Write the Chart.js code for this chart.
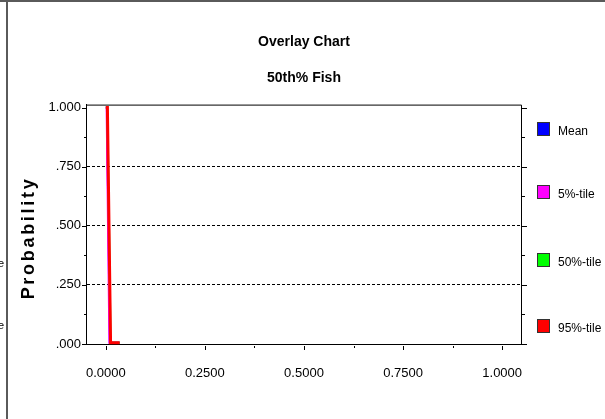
<!DOCTYPE html>
<html>
<head>
<meta charset="utf-8">
<script src="https://cdn.jsdelivr.net/npm/chart.js@4"></script>
<style>
    html, body { margin: 0; padding: 0; background: #fff; }
    #wrap { position: relative; width: 605px; height: 419px; overflow: hidden; }
</style>
</head>
<body>
<div id="wrap"><canvas id="overlay" width="605" height="419"></canvas></div>
<script>
// series (x = value, y = cumulative probability)
const seriesNames = ['Mean', '5%-tile', '50%-tile', '95%-tile'];
const seriesColors = ['#0000ff', '#ff00ff', '#00ff00', '#ff0000'];
const meanX = [0.000, 0.003, 0.010, 0.035];
const meanY = [1.000, 1.000, 0.005, 0.005];
const p5X = [0.000, 0.002, 0.009, 0.035];
const p5Y = [1.000, 1.000, 0.005, 0.005];
const p50X = [0.000, 0.004, 0.012, 0.035];
const p50Y = [1.000, 1.000, 0.005, 0.005];
const p95X = [0.000, 0.004, 0.012, 0.035];
const p95Y = [1.000, 1.000, 0.005, 0.005];

// axis ticks
const xTicks = [0, 0.125, 0.25, 0.375, 0.5, 0.625, 0.75, 0.875, 1];
const xLabelTicks = [0, 0.25, 0.5, 0.75, 1];
const yTicks = [0, 0.125, 0.25, 0.375, 0.5, 0.625, 0.75, 0.875, 1];
const yLabelTicks = [0, 0.25, 0.5, 0.75, 1];
const yGridTicks = [0.25, 0.5, 0.75];

const FONT = "'Liberation Sans', Arial, sans-serif";

function toPoints(xs, ys) {
    return xs.map((x, i) => ({ x: x, y: ys[i] }));
}

function isIn(list, v) {
    return list.some(t => Math.abs(t - v) < 1e-9);
}

function formatY(v) {
    return v.toFixed(3).replace(/^0/, '');
}

// frame, tick marks, rotated axis title, legend
const decorPlugin = {
    id: 'decor',
    beforeDraw(chart) {
        const ctx = chart.ctx;
        ctx.save();
        ctx.strokeStyle = '#5a5a5a';
        ctx.lineWidth = 2;
        ctx.beginPath();
        ctx.moveTo(0, 1);
        ctx.lineTo(605, 1);
        ctx.moveTo(7, 0);
        ctx.lineTo(7, 419);
        ctx.stroke();

        // cut-off text from the neighbouring panel
        ctx.fillStyle = '#000';
        ctx.font = '11px ' + FONT;
        ctx.textAlign = 'right';
        ctx.textBaseline = 'middle';
        ctx.fillText('50%-tile', 4, 264);
        ctx.fillText('95%-tile', 4, 326);
        ctx.restore();
    },
    afterDatasetsDraw(chart) {
        const ctx = chart.ctx;
        const a = chart.chartArea;
        const x = chart.scales.x;
        const y = chart.scales.y;
        ctx.save();
        ctx.strokeStyle = '#000';
        ctx.lineWidth = 1;
        ctx.beginPath();
        // top and right edges of the plot frame
        ctx.moveTo(a.left, a.top + 0.5);
        ctx.lineTo(a.right - 0.5, a.top + 0.5);
        ctx.lineTo(a.right - 0.5, a.bottom);
        yTicks.forEach(v => {
            const py = Math.round(y.getPixelForValue(v)) + 0.5;
            const len = isIn(yLabelTicks, v) ? 4 : 2;
            ctx.moveTo(a.left - len, py);
            ctx.lineTo(a.left, py);
            ctx.moveTo(a.right, py);
            ctx.lineTo(a.right + len + 1, py);
        });
        xTicks.forEach(v => {
            const px = Math.round(x.getPixelForValue(v)) + 0.5;
            const len = isIn(xLabelTicks, v) ? 4 : 2;
            ctx.moveTo(px, a.bottom + 2);
            ctx.lineTo(px, a.bottom + 2 + len);
        });
        ctx.stroke();

        // axis title
        ctx.fillStyle = '#000';
        ctx.font = 'bold 18px ' + FONT;
        ctx.letterSpacing = '2.7px';
        ctx.textAlign = 'center';
        ctx.textBaseline = 'middle';
        ctx.translate(29, 238);
        ctx.rotate(-Math.PI / 2);
        ctx.fillText('Probability', 0, 0);
        ctx.restore();

        // legend
        const legendTops = [122, 185, 253, 319];
        ctx.save();
        ctx.font = '12px ' + FONT;
        ctx.textAlign = 'left';
        ctx.textBaseline = 'middle';
        seriesNames.forEach((name, i) => {
            const top = legendTops[i];
            ctx.fillStyle = seriesColors[i];
            ctx.fillRect(537, top, 13, 14);
            ctx.strokeStyle = '#333';
            ctx.lineWidth = 1;
            ctx.strokeRect(537.5, top + 0.5, 12, 13);
            ctx.fillStyle = '#000';
            ctx.fillText(name, 558, top + 10);
        });
        ctx.restore();
    }
};

const ctx = document.getElementById('overlay').getContext('2d');

new Chart(ctx, {
    type: 'scatter',
    data: {
        datasets: [
            { label: seriesNames[0], data: toPoints(meanX, meanY), borderColor: seriesColors[0], borderWidth: 2, order: 3 },
            { label: seriesNames[1], data: toPoints(p5X, p5Y), borderColor: seriesColors[1], borderWidth: 2, order: 2 },
            { label: seriesNames[2], data: toPoints(p50X, p50Y), borderColor: seriesColors[2], borderWidth: 2, order: 1 },
            { label: seriesNames[3], data: toPoints(p95X, p95Y), borderColor: seriesColors[3], borderWidth: 3, order: 0 }
        ]
    },
    options: {
        responsive: false,
        animation: false,
        showLine: true,
        clip: 4,
        elements: {
            point: { radius: 0, hoverRadius: 0 },
            line: { tension: 0 }
        },
        layout: {
            padding: { left: 0, right: 83, top: 0, bottom: 0 }
        },
        plugins: {
            legend: { display: false },
            tooltip: { enabled: false },
            title: {
                display: true,
                text: 'Overlay Chart',
                fullSize: false,
                color: '#000',
                font: { family: FONT, size: 14, weight: 'bold', lineHeight: 1.2 },
                padding: { top: 34, bottom: 19 }
            },
            subtitle: {
                display: true,
                text: '50th% Fish',
                fullSize: false,
                color: '#000',
                font: { family: FONT, size: 14, weight: 'bold', lineHeight: 1.2 },
                padding: { top: 0, bottom: 18 }
            }
        },
        scales: {
            x: {
                type: 'linear',
                min: -0.05,
                max: 1.05,
                afterBuildTicks: s => { s.ticks = xTicks.map(v => ({ value: v })); },
                afterFit: s => { s.height = 75; },
                grid: {
                    drawOnChartArea: false,
                    drawTicks: false
                },
                border: { color: '#000' },
                ticks: {
                    color: '#000',
                    padding: 22,
                    maxRotation: 0,
                    autoSkip: false,
                    font: { family: FONT, size: 13 },
                    callback: v => isIn(xLabelTicks, v) ? v.toFixed(4) : ''
                }
            },
            y: {
                type: 'linear',
                min: 0,
                max: 1.0125,
                afterBuildTicks: s => { s.ticks = yTicks.map(v => ({ value: v })); },
                afterFit: s => { s.width = 86; },
                grid: {
                    color: c => (c.tick && isIn(yGridTicks, c.tick.value)) ? '#000' : 'rgba(0,0,0,0)',
                    drawTicks: false
                },
                border: { color: '#000', dash: [3, 2] },
                ticks: {
                    color: '#000',
                    padding: 5,
                    autoSkip: false,
                    font: { family: FONT, size: 13 },
                    callback: v => isIn(yLabelTicks, v) ? formatY(v) : ''
                }
            }
        }
    },
    plugins: [decorPlugin]
});
</script>
</body>
</html>
